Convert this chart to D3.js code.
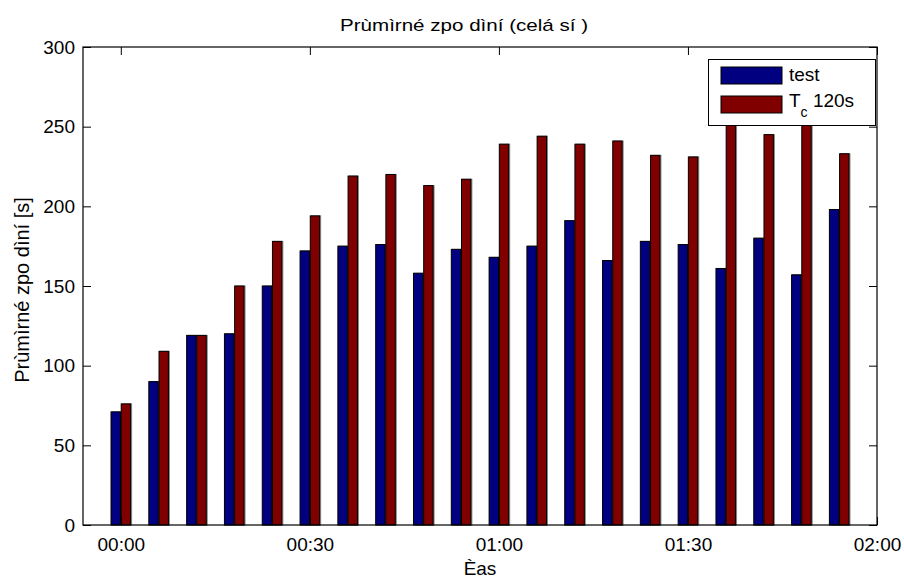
<!DOCTYPE html>
<html><head><meta charset="utf-8">
<script src="https://cdn.jsdelivr.net/npm/d3@7"></script>
<style>body{margin:0;background:#fff}text{font-family:"Liberation Sans",Arial,sans-serif}</style>
</head><body><svg id="c" width="904" height="579"></svg>
<script>
const minutes = [0,6,12,18,24,30,36,42,48,54,60,66,72,78,84,90,96,102,108,114];
const testValues = [71,90,119,120,150,172,175,176,158,173,168,175,191,166,178,176,161,180,157,198];
const tcValues = [76,109,119,150,178,194,219,220,213,217,239,244,239,241,232,231,262,245,258,233];
const seriesNames = ["test","T_c 120s"];
const xTickMinutes = [0,30,60,90,120];
const xTickLabels = ["00:00","00:30","01:00","01:30","02:00"];
const yTicks = [0,50,100,150,200,250,300];
const colors = ["#000080","#800000"];

const svg = d3.select("#c");
const L=83,R=877,T=47,B=525;
const x = d3.scaleLinear().domain([-6,120]).range([L,R]);
const y = d3.scaleLinear().domain([0,300]).range([B,T]);
const bw = 9.4, gap = 0.8;

const g = svg.append("g");
const series=[testValues,tcValues];
series.forEach((vals,si)=>{
  g.selectAll(null).data(vals).enter().append("rect")
   .attr("x",(d,i)=>x(minutes[i]) + (si===0 ? -bw-gap/2 : gap/2))
   .attr("y",d=>y(d)).attr("width",bw).attr("height",d=>B-y(d))
   .attr("fill",colors[si]).attr("stroke","#000").attr("stroke-width",1)
   .style("filter","drop-shadow(1px 0px 0px #888)");
});

// axes
const tl = 8, fs = 19;
const xb = d3.axisBottom(x).tickValues(xTickMinutes).tickFormat((d,i)=>xTickLabels[i]).tickSizeInner(-tl).tickSizeOuter(0).tickPadding(13);
const xt = d3.axisTop(x).tickValues(xTickMinutes).tickFormat("").tickSizeInner(-tl).tickSizeOuter(0);
const yl = d3.axisLeft(y).tickValues(yTicks).tickSizeInner(-tl).tickSizeOuter(0).tickPadding(8);
const yr = d3.axisRight(y).tickValues(yTicks).tickFormat("").tickSizeInner(-tl).tickSizeOuter(0);
const ax = [
 svg.append("g").attr("transform",`translate(0,${B})`).call(xb),
 svg.append("g").attr("transform",`translate(0,${T})`).call(xt),
 svg.append("g").attr("transform",`translate(${L},0)`).call(yl),
 svg.append("g").attr("transform",`translate(${R},0)`).call(yr)];
ax.forEach(a=>{a.attr("font-size",fs).attr("font-family","Liberation Sans, Arial, sans-serif");a.select(".domain").remove();a.selectAll("text").attr("font-size",fs).attr("fill","#000");a.selectAll("line").attr("stroke","#000");});
svg.append("rect").attr("x",L).attr("y",T).attr("width",R-L).attr("height",B-T).attr("fill","none").attr("stroke","#000").attr("stroke-width",1.2);

// legend
const lg = svg.append("g");
lg.append("rect").attr("x",708.5).attr("y",59.5).attr("width",167).attr("height",66).attr("fill","#fff").attr("stroke","#000");
[0,1].forEach(i=>{
  lg.append("rect").attr("x",721).attr("y",67+i*29).attr("width",61).attr("height",17).attr("fill",colors[i]).attr("stroke","#000");
});
lg.append("text").attr("x",789).attr("y",81).attr("font-size",19).text(seriesNames[0]);
const t2 = lg.append("text").attr("x",789).attr("y",107).attr("font-size",19);
t2.append("tspan").text("T");
t2.append("tspan").attr("font-size",14).attr("dy",10).text("c");
t2.append("tspan").attr("dy",-10).text(" 120s");

svg.append("text").attr("x",464).attr("y",31).attr("text-anchor","middle").attr("font-size",17)
  .attr("textLength",248).attr("lengthAdjust","spacingAndGlyphs").text("Prùmìrné zpo dìní (celá sí )");
svg.append("text").attr("x",480).attr("y",575).attr("text-anchor","middle").attr("font-size",19).text("Èas");
svg.append("text").attr("transform","translate(29,290) rotate(-90)").attr("text-anchor","middle").attr("font-size",20).text("Prùmìrné zpo dìní [s]");
</script></body></html>
